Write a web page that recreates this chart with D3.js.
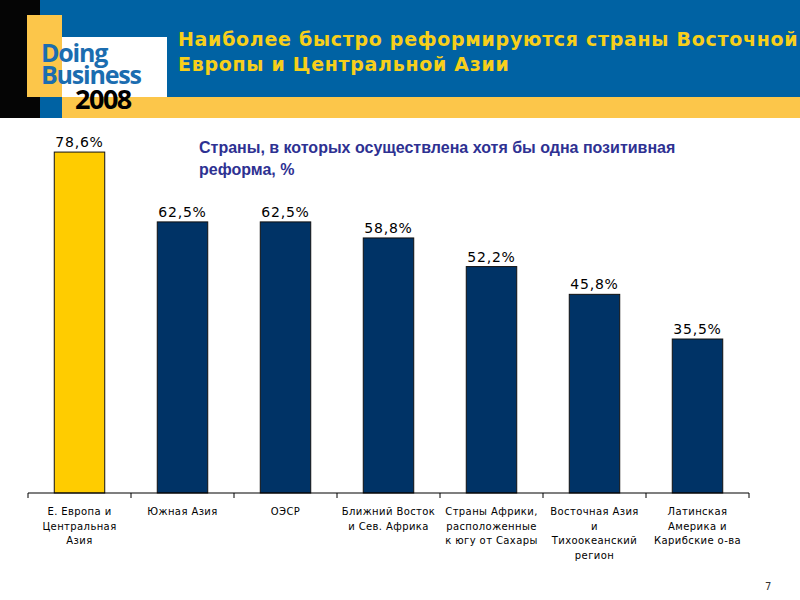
<!DOCTYPE html>
<html>
<head>
<meta charset="utf-8">
<script src="https://cdn.jsdelivr.net/npm/d3@7"></script>
<style>
  body { margin: 0; background: #fff; }
</style>
</head>
<body>
<div class="box"></div>
<script>
const categories = [
    ["Е. Европа и", "Центральная", "Азия"],
    ["Южная Азия"],
    ["ОЭСР"],
    ["Ближний Восток", "и Сев. Африка"],
    ["Страны Африки,", "расположенные", "к югу от Сахары"],
    ["Восточная Азия", "и", "Тихоокеанский", "регион"],
    ["Латинская", "Америка и", "Карибские о-ва"]
]
const values = [78.6, 62.5, 62.5, 58.8, 52.2, 45.8, 35.5]
const valueLabels = ["78,6%", "62,5%", "62,5%", "58,8%", "52,2%", "45,8%", "35,5%"]
const titleLines = ["Наиболее быстро реформируются страны Восточной", "Европы и Центральной Азии"]
const subtitleLines = ["Страны, в которых осуществлена хотя бы одна позитивная", "реформа, %"]

const width = 800
const height = 600

const svg = d3.select('.box')
              .append('svg')
              .attr('width', width)
              .attr('height', height)

// header
svg.append('rect').attr('x', 0).attr('y', 0).attr('width', 800).attr('height', 97).attr('fill', '#0062A3')
svg.append('rect').attr('x', 40).attr('y', 97).attr('width', 22).attr('height', 21).attr('fill', '#0062A3')
svg.append('rect').attr('x', 62).attr('y', 97).attr('width', 738).attr('height', 21).attr('fill', '#FCC64A')
svg.append('rect').attr('x', 0).attr('y', 0).attr('width', 40).attr('height', 118).attr('fill', '#050505')
svg.append('rect').attr('x', 27).attr('y', 15).attr('width', 35).attr('height', 82).attr('fill', '#FCC64A')
svg.append('rect').attr('x', 62).attr('y', 37).attr('width', 105).attr('height', 60).attr('fill', '#fff')

// logo (lines are stacked tightly, as in the original)
const logo = svg.append('g')
    .attr('font-family', 'Open Sans, DejaVu Sans, sans-serif')
    .attr('font-weight', 'bold')
logo.append('text').attr('x', 41).attr('y', 62).attr('font-size', 25).attr('fill', '#1B6DB0')
    .attr('letter-spacing', -1.2).text('Doing')
logo.append('text').attr('x', 41).attr('y', 84).attr('font-size', 25).attr('fill', '#1B6DB0')
    .attr('letter-spacing', -1.2).text('Business')
logo.append('text').attr('x', 75).attr('y', 109).attr('font-size', 27).attr('fill', '#000')
    .attr('letter-spacing', -1.5).text('2008')

svg.append('g').selectAll('text')
   .data(titleLines).enter()
   .append('text')
   .attr('x', 178)
   .attr('y', (d, i) => 46 + i * 25)
   .attr('font-family', 'DejaVu Sans')
   .attr('font-weight', 'bold')
   .attr('font-size', 19)
   .attr('letter-spacing', 0.7)
   .attr('fill', '#F7CF1A')
   .text(d => d)

svg.append('g').selectAll('text')
   .data(subtitleLines).enter()
   .append('text')
   .attr('x', 199)
   .attr('y', (d, i) => 153 + i * 22)
   .attr('font-family', 'Liberation Sans')
   .attr('font-weight', 'bold')
   .attr('font-size', 16)
   .attr('fill', '#2E3192')
   .text(d => d)

// chart
const x = d3.scaleBand()
            .domain(d3.range(values.length))
            .range([28, 749])
            .paddingInner(0.51)
            .paddingOuter(0.255)

const y = d3.scaleLinear()
            .domain([0, 80])
            .range([493, 146])

svg.append('g').selectAll('rect')
   .data(values).enter()
   .append('rect')
   .attr('x', (d, i) => x(i))
   .attr('y', d => y(d))
   .attr('width', x.bandwidth())
   .attr('height', d => y(0) - y(d))
   .attr('fill', (d, i) => i === 0 ? '#FFCC00' : '#003366')
   .attr('stroke', '#111')
   .attr('stroke-width', 1)

svg.append('g').selectAll('text')
   .data(values).enter()
   .append('text')
   .attr('x', (d, i) => x(i) + x.bandwidth() / 2)
   .attr('y', d => y(d) - 5)
   .attr('text-anchor', 'middle')
   .attr('font-family', 'DejaVu Sans')
   .attr('font-size', 14)
   .attr('letter-spacing', 0.8)
   .attr('fill', '#000')
   .text((d, i) => valueLabels[i])

// axis with ticks at band edges
const edges = d3.range(values.length + 1).map(i => 28 + i * x.step())
const axis = svg.append('g')
axis.append('line').attr('x1', 28).attr('x2', 749).attr('y1', 493).attr('y2', 493)
    .attr('stroke', '#000').attr('stroke-width', 1.2)
axis.selectAll('.tick')
    .data(edges).enter()
    .append('line')
    .attr('x1', d => d).attr('x2', d => d)
    .attr('y1', 493).attr('y2', 498)
    .attr('stroke', '#000')

const catG = svg.append('g').selectAll('g')
   .data(categories).enter()
   .append('text')
   .attr('text-anchor', 'middle')
   .attr('font-family', 'DejaVu Sans')
   .attr('font-size', 10)
   .attr('letter-spacing', 0.4)
   .attr('fill', '#000')

catG.selectAll('tspan')
    .data((d, i) => d.map(t => ({ t, i })))
    .enter()
    .append('tspan')
    .attr('x', d => x(d.i) + x.bandwidth() / 2)
    .attr('y', (d, j) => 515 + j * 14.5)
    .text(d => d.t)

svg.append('text').attr('x', 765).attr('y', 590).attr('font-family', 'DejaVu Sans')
   .attr('font-size', 10).attr('fill', '#333').text('7')
</script>
</body>
</html>
